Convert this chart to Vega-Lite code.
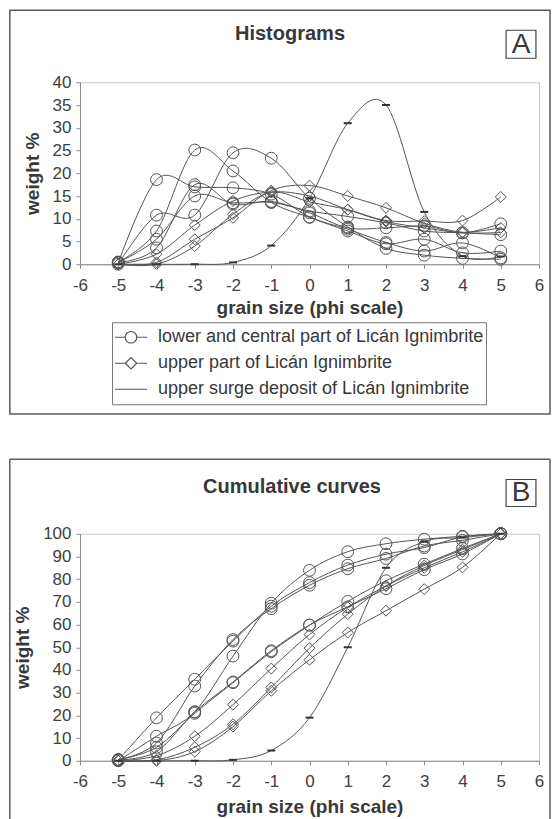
{
  "$schema": "https://vega.github.io/schema/vega-lite/v6.json",
  "padding": {"left": 8, "top": 8.25, "right": 2, "bottom": 0},
  "background": "white",
  "spacing": 42.5,
  "config": {
    "font": "Liberation Sans",
    "view": {"stroke": "#c8c8c8", "strokeWidth": 1},
    "axis": {"domainColor": "#8a8a8a", "tickColor": "#8a8a8a", "tickSize": 4, "labelFontSize": 17, "labelColor": "#404040", "titleFontSize": 19, "titleColor": "#383838", "titleFontWeight": "bold", "grid": false, "labelFont": "Liberation Sans", "titleFont": "Liberation Sans", "labelFlush": false, "labelOverlap": false}
  },
  "datasets": {
    "grain": [
      {"s":"L1","g":"lower","phi":-5,"h":0,"c":0},{"s":"L1","g":"lower","phi":-4,"h":10.8,"c":10.8},{"s":"L1","g":"lower","phi":-3,"h":10.8,"c":21.6},{"s":"L1","g":"lower","phi":-2,"h":24.5,"c":46.1},{"s":"L1","g":"lower","phi":-1,"h":23.3,"c":69.4},{"s":"L1","g":"lower","phi":0,"h":14.5,"c":83.9},{"s":"L1","g":"lower","phi":1,"h":8.2,"c":92.1},{"s":"L1","g":"lower","phi":2,"h":3.5,"c":95.6},{"s":"L1","g":"lower","phi":3,"h":2.0,"c":97.6},{"s":"L1","g":"lower","phi":4,"h":1.3,"c":98.9},{"s":"L1","g":"lower","phi":5,"h":1.1,"c":100},
      {"s":"L2","g":"lower","phi":-5,"h":0.3,"c":0.3},{"s":"L2","g":"lower","phi":-4,"h":18.6,"c":18.9},{"s":"L2","g":"lower","phi":-3,"h":17.0,"c":35.9},{"s":"L2","g":"lower","phi":-2,"h":16.8,"c":52.7},{"s":"L2","g":"lower","phi":-1,"h":15.4,"c":68.1},{"s":"L2","g":"lower","phi":0,"h":10.4,"c":78.5},{"s":"L2","g":"lower","phi":1,"h":7.7,"c":86.2},{"s":"L2","g":"lower","phi":2,"h":4.8,"c":91.0},{"s":"L2","g":"lower","phi":3,"h":2.9,"c":93.9},{"s":"L2","g":"lower","phi":4,"h":4.7,"c":98.6},{"s":"L2","g":"lower","phi":5,"h":1.4,"c":100},
      {"s":"L3","g":"lower","phi":-5,"h":0.5,"c":0.5},{"s":"L3","g":"lower","phi":-4,"h":7.3,"c":7.8},{"s":"L3","g":"lower","phi":-3,"h":25.1,"c":32.9},{"s":"L3","g":"lower","phi":-2,"h":20.5,"c":53.4},{"s":"L3","g":"lower","phi":-1,"h":13.6,"c":67.0},{"s":"L3","g":"lower","phi":0,"h":10.3,"c":77.3},{"s":"L3","g":"lower","phi":1,"h":7.3,"c":84.6},{"s":"L3","g":"lower","phi":2,"h":4.5,"c":89.1},{"s":"L3","g":"lower","phi":3,"h":5.5,"c":94.6},{"s":"L3","g":"lower","phi":4,"h":2.5,"c":97.1},{"s":"L3","g":"lower","phi":5,"h":2.9,"c":100},
      {"s":"L4","g":"lower","phi":-5,"h":0.4,"c":0.4},{"s":"L4","g":"lower","phi":-4,"h":5.5,"c":5.9},{"s":"L4","g":"lower","phi":-3,"h":15.0,"c":20.9},{"s":"L4","g":"lower","phi":-2,"h":13.5,"c":34.4},{"s":"L4","g":"lower","phi":-1,"h":13.6,"c":48.0},{"s":"L4","g":"lower","phi":0,"h":11.7,"c":59.7},{"s":"L4","g":"lower","phi":1,"h":10.5,"c":70.2},{"s":"L4","g":"lower","phi":2,"h":9.1,"c":79.3},{"s":"L4","g":"lower","phi":3,"h":7.3,"c":86.6},{"s":"L4","g":"lower","phi":4,"h":6.9,"c":93.5},{"s":"L4","g":"lower","phi":5,"h":6.5,"c":100},
      {"s":"L5","g":"lower","phi":-5,"h":0.4,"c":0.4},{"s":"L5","g":"lower","phi":-4,"h":3.6,"c":4.0},{"s":"L5","g":"lower","phi":-3,"h":17.5,"c":21.5},{"s":"L5","g":"lower","phi":-2,"h":13.2,"c":34.7},{"s":"L5","g":"lower","phi":-1,"h":13.8,"c":48.5},{"s":"L5","g":"lower","phi":0,"h":11.3,"c":59.8},{"s":"L5","g":"lower","phi":1,"h":8.0,"c":67.8},{"s":"L5","g":"lower","phi":2,"h":8.0,"c":75.8},{"s":"L5","g":"lower","phi":3,"h":8.4,"c":84.2},{"s":"L5","g":"lower","phi":4,"h":6.9,"c":91.1},{"s":"L5","g":"lower","phi":5,"h":8.9,"c":100},
      {"s":"D1","g":"upper","phi":-5,"h":0,"c":0},{"s":"D1","g":"upper","phi":-4,"h":0,"c":0},{"s":"D1","g":"upper","phi":-3,"h":4.0,"c":4.0},{"s":"D1","g":"upper","phi":-2,"h":11.0,"c":15.0},{"s":"D1","g":"upper","phi":-1,"h":15.8,"c":30.8},{"s":"D1","g":"upper","phi":0,"h":13.7,"c":44.5},{"s":"D1","g":"upper","phi":1,"h":12.0,"c":56.5},{"s":"D1","g":"upper","phi":2,"h":9.6,"c":66.1},{"s":"D1","g":"upper","phi":3,"h":9.5,"c":75.6},{"s":"D1","g":"upper","phi":4,"h":9.6,"c":85.2},{"s":"D1","g":"upper","phi":5,"h":14.8,"c":100},
      {"s":"D2","g":"upper","phi":-5,"h":0,"c":0},{"s":"D2","g":"upper","phi":-4,"h":0.4,"c":0.4},{"s":"D2","g":"upper","phi":-3,"h":5.5,"c":5.9},{"s":"D2","g":"upper","phi":-2,"h":10.2,"c":16.1},{"s":"D2","g":"upper","phi":-1,"h":16.2,"c":32.3},{"s":"D2","g":"upper","phi":0,"h":17.3,"c":49.6},{"s":"D2","g":"upper","phi":1,"h":15.0,"c":64.6},{"s":"D2","g":"upper","phi":2,"h":12.4,"c":77.0},{"s":"D2","g":"upper","phi":3,"h":9.0,"c":86.0},{"s":"D2","g":"upper","phi":4,"h":7.0,"c":93.0},{"s":"D2","g":"upper","phi":5,"h":7.0,"c":100},
      {"s":"D3","g":"upper","phi":-5,"h":0,"c":0},{"s":"D3","g":"upper","phi":-4,"h":2.2,"c":2.2},{"s":"D3","g":"upper","phi":-3,"h":8.6,"c":10.8},{"s":"D3","g":"upper","phi":-2,"h":13.9,"c":24.7},{"s":"D3","g":"upper","phi":-1,"h":15.9,"c":40.6},{"s":"D3","g":"upper","phi":0,"h":15.0,"c":55.6},{"s":"D3","g":"upper","phi":1,"h":12.0,"c":67.6},{"s":"D3","g":"upper","phi":2,"h":9.4,"c":77.0},{"s":"D3","g":"upper","phi":3,"h":8.0,"c":85.0},{"s":"D3","g":"upper","phi":4,"h":7.0,"c":92.0},{"s":"D3","g":"upper","phi":5,"h":8.0,"c":100},
      {"s":"S","g":"surge","phi":-5,"h":0,"c":0},{"s":"S","g":"surge","phi":-4,"h":0,"c":0},{"s":"S","g":"surge","phi":-3,"h":0,"c":0},{"s":"S","g":"surge","phi":-2,"h":0.4,"c":0.4},{"s":"S","g":"surge","phi":-1,"h":4.1,"c":4.5},{"s":"S","g":"surge","phi":0,"h":14.5,"c":19.0},{"s":"S","g":"surge","phi":1,"h":31.0,"c":50.0},{"s":"S","g":"surge","phi":2,"h":35.0,"c":85.0},{"s":"S","g":"surge","phi":3,"h":11.5,"c":96.5},{"s":"S","g":"surge","phi":4,"h":1.8,"c":98.3},{"s":"S","g":"surge","phi":5,"h":1.7,"c":100}
    ]
  },
  "vconcat": [
    {
      "width": 459,
      "height": 182,
      "data": {"name": "grain"},
      "layer": [
        {
          "mark": {"type": "line", "interpolate": "cardinal", "tension": 0, "color": "#555", "strokeWidth": 1},
          "encoding": {
            "x": {"field": "phi", "type": "quantitative", "scale": {"domain": [-6, 6], "nice": false, "zero": false},
              "axis": {"title": "grain size (phi scale)", "values": [-6,-5,-4,-3,-2,-1,0,1,2,3,4,5,6], "labelExpr": "datum.value < 0 ? '-' + abs(datum.value) : '' + datum.value", "labelPadding": 9, "titlePadding": 5}},
            "y": {"field": "h", "type": "quantitative", "scale": {"domain": [0, 40], "nice": false},
              "axis": {"title": "weight %", "values": [0,5,10,15,20,25,30,35,40], "labelPadding": 5, "titlePadding": 10}},
            "detail": {"field": "s", "type": "nominal"}
          }
        },
        {
          "data": {"values": [{}]},
          "mark": {"type": "rect", "fill": null, "fillOpacity": 0, "stroke": "#5a5a5a", "strokeWidth": 1.5},
          "encoding": {
            "x": {"datum": -7.835, "type": "quantitative", "axis": {"title": "grain size (phi scale)", "values": [-6,-5,-4,-3,-2,-1,0,1,2,3,4,5,6], "labelExpr": "datum.value < 0 ? '-' + abs(datum.value) : '' + datum.value", "labelPadding": 9, "titlePadding": 5}},
            "x2": {"datum": 6.288},
            "y": {"datum": 55.82, "type": "quantitative", "axis": {"title": "weight %", "values": [0,5,10,15,20,25,30,35,40], "labelPadding": 5, "titlePadding": 10}},
            "y2": {"datum": -32.9}
          }
        },
        {
          "data": {"values": [{}]},
          "mark": {"type": "text", "text": "Histograms", "fontSize": 20, "fontWeight": "bold", "color": "#383838", "align": "center", "baseline": "middle"},
          "encoding": {
            "x": {"datum": -0.51, "type": "quantitative", "axis": {"title": "grain size (phi scale)", "values": [-6,-5,-4,-3,-2,-1,0,1,2,3,4,5,6], "labelExpr": "datum.value < 0 ? '-' + abs(datum.value) : '' + datum.value", "labelPadding": 9, "titlePadding": 5}},
            "y": {"datum": 50.55, "type": "quantitative", "axis": {"title": "weight %", "values": [0,5,10,15,20,25,30,35,40], "labelPadding": 5, "titlePadding": 10}}
          }
        },
        {
          "data": {"values": [{}]},
          "mark": {"type": "rect", "fill": null, "fillOpacity": 0, "stroke": "#444", "strokeWidth": 1.2},
          "encoding": {
            "x": {"datum": 5.14, "type": "quantitative", "axis": {"title": "grain size (phi scale)", "values": [-6,-5,-4,-3,-2,-1,0,1,2,3,4,5,6], "labelExpr": "datum.value < 0 ? '-' + abs(datum.value) : '' + datum.value", "labelPadding": 9, "titlePadding": 5}},
            "x2": {"datum": 5.92},
            "y": {"datum": 51.43, "type": "quantitative", "axis": {"title": "weight %", "values": [0,5,10,15,20,25,30,35,40], "labelPadding": 5, "titlePadding": 10}},
            "y2": {"datum": 45.27}
          }
        },
        {
          "data": {"values": [{}]},
          "mark": {"type": "text", "text": "A", "fontSize": 28, "color": "#383838", "align": "center", "baseline": "middle"},
          "encoding": {
            "x": {"datum": 5.53, "type": "quantitative", "axis": {"title": "grain size (phi scale)", "values": [-6,-5,-4,-3,-2,-1,0,1,2,3,4,5,6], "labelExpr": "datum.value < 0 ? '-' + abs(datum.value) : '' + datum.value", "labelPadding": 9, "titlePadding": 5}},
            "y": {"datum": 48.24, "type": "quantitative", "axis": {"title": "weight %", "values": [0,5,10,15,20,25,30,35,40], "labelPadding": 5, "titlePadding": 10}}
          }
        },
        {
          "transform": [{"filter": "datum.g == 'lower'"}],
          "mark": {"type": "point", "shape": "circle", "filled": false, "color": "#555", "size": 140, "strokeWidth": 1, "opacity": 1},
          "encoding": {
            "x": {"field": "phi", "type": "quantitative", "axis": {"title": "grain size (phi scale)", "values": [-6,-5,-4,-3,-2,-1,0,1,2,3,4,5,6], "labelExpr": "datum.value < 0 ? '-' + abs(datum.value) : '' + datum.value", "labelPadding": 9, "titlePadding": 5}},
            "y": {"field": "h", "type": "quantitative", "axis": {"title": "weight %", "values": [0,5,10,15,20,25,30,35,40], "labelPadding": 5, "titlePadding": 10}}
          }
        },
        {
          "transform": [{"filter": "datum.g == 'upper'"}],
          "mark": {"type": "point", "shape": "diamond", "filled": false, "color": "#555", "size": 120, "strokeWidth": 1, "opacity": 1},
          "encoding": {
            "x": {"field": "phi", "type": "quantitative", "axis": {"title": "grain size (phi scale)", "values": [-6,-5,-4,-3,-2,-1,0,1,2,3,4,5,6], "labelExpr": "datum.value < 0 ? '-' + abs(datum.value) : '' + datum.value", "labelPadding": 9, "titlePadding": 5}},
            "y": {"field": "h", "type": "quantitative", "axis": {"title": "weight %", "values": [0,5,10,15,20,25,30,35,40], "labelPadding": 5, "titlePadding": 10}}
          }
        },
        {
          "transform": [{"filter": "datum.g == 'surge'"}],
          "mark": {"type": "point", "shape": "M-1,0H1", "filled": false, "color": "#333", "size": 64, "strokeWidth": 2, "opacity": 1},
          "encoding": {
            "x": {"field": "phi", "type": "quantitative", "axis": {"title": "grain size (phi scale)", "values": [-6,-5,-4,-3,-2,-1,0,1,2,3,4,5,6], "labelExpr": "datum.value < 0 ? '-' + abs(datum.value) : '' + datum.value", "labelPadding": 9, "titlePadding": 5}},
            "y": {"field": "h", "type": "quantitative", "axis": {"title": "weight %", "values": [0,5,10,15,20,25,30,35,40], "labelPadding": 5, "titlePadding": 10}}
          }
        },
        {
          "transform": [{"filter": "false"}],
          "mark": {"type": "point", "filled": false, "color": "#555", "size": 1024, "strokeWidth": 1.2, "opacity": 1},
          "encoding": {
            "x": {"field": "phi", "type": "quantitative", "axis": {"title": "grain size (phi scale)", "values": [-6,-5,-4,-3,-2,-1,0,1,2,3,4,5,6], "labelExpr": "datum.value < 0 ? '-' + abs(datum.value) : '' + datum.value", "labelPadding": 9, "titlePadding": 5}},
            "y": {"field": "h", "type": "quantitative", "axis": {"title": "weight %", "values": [0,5,10,15,20,25,30,35,40], "labelPadding": 5, "titlePadding": 10}},
            "shape": {"field": "g", "type": "nominal",
              "scale": {"domain": ["lower", "upper", "surge"], "range": ["M-1,0H-0.36M1,0H0.36M0.36,0A0.36,0.36,0,1,1,-0.36,0A0.36,0.36,0,1,1,0.36,0", "M-1,0H-0.36M1,0H0.36M-0.36,0L0,-0.36L0.36,0L0,0.36Z", "M-1,0H1"]},
              "legend": {"title": null, "orient": "none", "legendX": 32, "legendY": 240, "direction": "vertical", "strokeColor": "#777", "padding": 2, "labelFontSize": 18, "labelFont": "Liberation Sans", "labelColor": "#383838", "labelOffset": 10, "labelLimit": 600, "symbolSize": 1024, "symbolStrokeWidth": 1.2, "symbolStrokeColor": "#555", "symbolFillColor": "transparent", "clipHeight": 26, "rowPadding": 0,
                "labelExpr": "datum.label == 'lower' ? 'lower and central part of Licán Ignimbrite' : datum.label == 'upper' ? 'upper part of Licán Ignimbrite' : 'upper surge deposit of Licán Ignimbrite'"}}
          }
        }
      ]
    },
    {
      "width": 459,
      "height": 227,
      "data": {"name": "grain"},
      "layer": [
        {
          "mark": {"type": "line", "interpolate": "cardinal", "tension": 0, "color": "#555", "strokeWidth": 1},
          "encoding": {
            "x": {"field": "phi", "type": "quantitative", "scale": {"domain": [-6, 6], "nice": false, "zero": false},
              "axis": {"title": "grain size (phi scale)", "values": [-6,-5,-4,-3,-2,-1,0,1,2,3,4,5,6], "labelExpr": "datum.value < 0 ? '-' + abs(datum.value) : '' + datum.value", "labelPadding": 9, "titlePadding": 8}},
            "y": {"field": "c", "type": "quantitative", "scale": {"domain": [0, 100], "nice": false},
              "axis": {"title": "weight %", "values": [0,10,20,30,40,50,60,70,80,90,100], "labelPadding": 5, "titlePadding": 10}},
            "detail": {"field": "s", "type": "nominal"}
          }
        },
        {
          "data": {"values": [{}]},
          "mark": {"type": "rule", "stroke": "#5a5a5a", "strokeWidth": 1.5},
          "encoding": {
            "x": {"datum": -7.835, "type": "quantitative", "axis": {"title": "grain size (phi scale)", "values": [-6,-5,-4,-3,-2,-1,0,1,2,3,4,5,6], "labelExpr": "datum.value < 0 ? '-' + abs(datum.value) : '' + datum.value", "labelPadding": 9, "titlePadding": 8}},
            "y": {"datum": 132.86, "type": "quantitative", "axis": {"title": "weight %", "values": [0,10,20,30,40,50,60,70,80,90,100], "labelPadding": 5, "titlePadding": 10}},
            "y2": {"datum": -26.2}
          }
        },
        {
          "data": {"values": [{}]},
          "mark": {"type": "rule", "stroke": "#5a5a5a", "strokeWidth": 1.5},
          "encoding": {
            "x": {"datum": 6.288, "type": "quantitative", "axis": {"title": "grain size (phi scale)", "values": [-6,-5,-4,-3,-2,-1,0,1,2,3,4,5,6], "labelExpr": "datum.value < 0 ? '-' + abs(datum.value) : '' + datum.value", "labelPadding": 9, "titlePadding": 8}},
            "y": {"datum": 132.86, "type": "quantitative", "axis": {"title": "weight %", "values": [0,10,20,30,40,50,60,70,80,90,100], "labelPadding": 5, "titlePadding": 10}},
            "y2": {"datum": -26.2}
          }
        },
        {
          "data": {"values": [{}]},
          "mark": {"type": "rule", "stroke": "#5a5a5a", "strokeWidth": 1.5},
          "encoding": {
            "x": {"datum": -7.835, "type": "quantitative", "axis": {"title": "grain size (phi scale)", "values": [-6,-5,-4,-3,-2,-1,0,1,2,3,4,5,6], "labelExpr": "datum.value < 0 ? '-' + abs(datum.value) : '' + datum.value", "labelPadding": 9, "titlePadding": 8}},
            "x2": {"datum": 6.288},
            "y": {"datum": 132.86, "type": "quantitative", "axis": {"title": "weight %", "values": [0,10,20,30,40,50,60,70,80,90,100], "labelPadding": 5, "titlePadding": 10}}
          }
        },
        {
          "data": {"values": [{}]},
          "mark": {"type": "text", "text": "Cumulative curves", "fontSize": 20, "fontWeight": "bold", "color": "#383838", "align": "center", "baseline": "middle"},
          "encoding": {
            "x": {"datum": -0.458, "type": "quantitative", "axis": {"title": "grain size (phi scale)", "values": [-6,-5,-4,-3,-2,-1,0,1,2,3,4,5,6], "labelExpr": "datum.value < 0 ? '-' + abs(datum.value) : '' + datum.value", "labelPadding": 9, "titlePadding": 8}},
            "y": {"datum": 120.8, "type": "quantitative", "axis": {"title": "weight %", "values": [0,10,20,30,40,50,60,70,80,90,100], "labelPadding": 5, "titlePadding": 10}}
          }
        },
        {
          "data": {"values": [{}]},
          "mark": {"type": "rect", "fill": null, "fillOpacity": 0, "stroke": "#444", "strokeWidth": 1.2},
          "encoding": {
            "x": {"datum": 5.14, "type": "quantitative", "axis": {"title": "grain size (phi scale)", "values": [-6,-5,-4,-3,-2,-1,0,1,2,3,4,5,6], "labelExpr": "datum.value < 0 ? '-' + abs(datum.value) : '' + datum.value", "labelPadding": 9, "titlePadding": 8}},
            "x2": {"datum": 5.92},
            "y": {"datum": 123.9, "type": "quantitative", "axis": {"title": "weight %", "values": [0,10,20,30,40,50,60,70,80,90,100], "labelPadding": 5, "titlePadding": 10}},
            "y2": {"datum": 112.0}
          }
        },
        {
          "data": {"values": [{}]},
          "mark": {"type": "text", "text": "B", "fontSize": 28, "color": "#383838", "align": "center", "baseline": "middle"},
          "encoding": {
            "x": {"datum": 5.53, "type": "quantitative", "axis": {"title": "grain size (phi scale)", "values": [-6,-5,-4,-3,-2,-1,0,1,2,3,4,5,6], "labelExpr": "datum.value < 0 ? '-' + abs(datum.value) : '' + datum.value", "labelPadding": 9, "titlePadding": 8}},
            "y": {"datum": 118.0, "type": "quantitative", "axis": {"title": "weight %", "values": [0,10,20,30,40,50,60,70,80,90,100], "labelPadding": 5, "titlePadding": 10}}
          }
        },
        {
          "transform": [{"filter": "datum.g == 'lower'"}],
          "mark": {"type": "point", "shape": "circle", "filled": false, "color": "#555", "size": 140, "strokeWidth": 1, "opacity": 1},
          "encoding": {
            "x": {"field": "phi", "type": "quantitative", "axis": {"title": "grain size (phi scale)", "values": [-6,-5,-4,-3,-2,-1,0,1,2,3,4,5,6], "labelExpr": "datum.value < 0 ? '-' + abs(datum.value) : '' + datum.value", "labelPadding": 9, "titlePadding": 8}},
            "y": {"field": "c", "type": "quantitative", "axis": {"title": "weight %", "values": [0,10,20,30,40,50,60,70,80,90,100], "labelPadding": 5, "titlePadding": 10}}
          }
        },
        {
          "transform": [{"filter": "datum.g == 'upper'"}],
          "mark": {"type": "point", "shape": "diamond", "filled": false, "color": "#555", "size": 120, "strokeWidth": 1, "opacity": 1},
          "encoding": {
            "x": {"field": "phi", "type": "quantitative", "axis": {"title": "grain size (phi scale)", "values": [-6,-5,-4,-3,-2,-1,0,1,2,3,4,5,6], "labelExpr": "datum.value < 0 ? '-' + abs(datum.value) : '' + datum.value", "labelPadding": 9, "titlePadding": 8}},
            "y": {"field": "c", "type": "quantitative", "axis": {"title": "weight %", "values": [0,10,20,30,40,50,60,70,80,90,100], "labelPadding": 5, "titlePadding": 10}}
          }
        },
        {
          "transform": [{"filter": "datum.g == 'surge'"}],
          "mark": {"type": "point", "shape": "M-1,0H1", "filled": false, "color": "#333", "size": 64, "strokeWidth": 2, "opacity": 1},
          "encoding": {
            "x": {"field": "phi", "type": "quantitative", "axis": {"title": "grain size (phi scale)", "values": [-6,-5,-4,-3,-2,-1,0,1,2,3,4,5,6], "labelExpr": "datum.value < 0 ? '-' + abs(datum.value) : '' + datum.value", "labelPadding": 9, "titlePadding": 8}},
            "y": {"field": "c", "type": "quantitative", "axis": {"title": "weight %", "values": [0,10,20,30,40,50,60,70,80,90,100], "labelPadding": 5, "titlePadding": 10}}
          }
        }
      ]
    }
  ]
}
